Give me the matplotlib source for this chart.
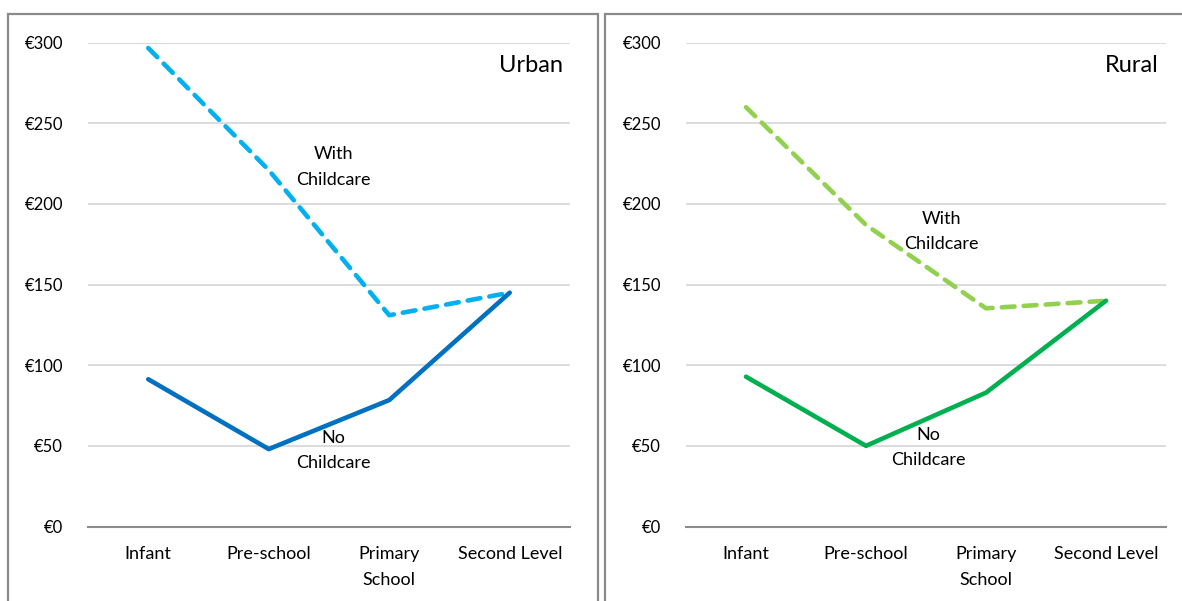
import matplotlib.pyplot as plt
from matplotlib.patches import Rectangle

# spending per child, by stage of schooling
stages = ['Infant', 'Pre-school', 'Primary\nSchool', 'Second Level']
urban_with = [296.7, 221, 131, 145]
urban_no = [91.3, 48, 78.4, 145]
rural_with = [260, 187, 135.3, 140]
rural_no = [92.9, 50, 83, 140]
yticks = [0, 50, 100, 150, 200, 250, 300]
ytick_labels = ['€0', '€50', '€100', '€150', '€200', '€250', '€300']

W, H = 1182, 601
fig = plt.figure(figsize=(W / 100, H / 100), dpi=100)
font = 'Lato'

# frames round each chart
for x0, x1 in [(8, 598), (605, 1190)]:
    fig.patches.append(Rectangle((x0 / W, -0.02), (x1 - x0) / W, (H - 14) / H + 0.02,
                                 transform=fig.transFigure, fill=False,
                                 edgecolor='#8a8a8a', linewidth=1.6))

def panel(left, width, title, with_vals, no_vals, c_with, c_no, lab_with, lab_no):
    ax = fig.add_axes([left / W, (H - 526.5) / H, width / W, 483.8 / H])
    x = range(len(stages))
    ax.plot(x, with_vals, color=c_with, lw=3.3, dashes=(2.8, 2.0),
            dash_capstyle='round', solid_capstyle='round')
    ax.plot(x, no_vals, color=c_no, lw=3.3, solid_capstyle='round')
    ax.set_xlim(-0.5, 3.5)
    ax.set_ylim(0, 300)
    ax.set_yticks(yticks)
    ax.set_yticklabels(ytick_labels, fontfamily=font, fontsize=12)
    ax.set_xticks(list(x))
    ax.set_xticklabels(stages, fontfamily=font, fontsize=13, linespacing=1.75)
    ax.tick_params(axis='both', length=0)
    ax.tick_params(axis='y', pad=18)
    ax.tick_params(axis='x', pad=14)
    ax.grid(axis='y', color='#d9d9d9', linewidth=1.3)
    ax.set_axisbelow(True)
    for s in ['top', 'right', 'left']:
        ax.spines[s].set_visible(False)
    ax.spines['bottom'].set_color('#8c8c8c')
    ax.spines['bottom'].set_linewidth(1.5)
    ax.text(0.985, 0.975, title, transform=ax.transAxes, ha='right', va='top',
            fontfamily=font, fontsize=17)
    ax.text(lab_with[0], lab_with[1], 'With\nChildcare', ha='center', va='center',
            fontfamily=font, fontsize=13, linespacing=1.7)
    ax.text(lab_no[0], lab_no[1], 'No\nChildcare', ha='center', va='center',
            fontfamily=font, fontsize=13, linespacing=1.7)
    return ax

panel(88, 482, 'Urban', urban_with, urban_no, '#00B0F0', '#0070C0',
      (1.535, 222.9), (1.535, 47.4))
panel(686, 480, 'Rural', rural_with, rural_no, '#92D050', '#00B050',
      (1.625, 183), (1.52, 49))

fig.savefig('out.png', dpi=100)
